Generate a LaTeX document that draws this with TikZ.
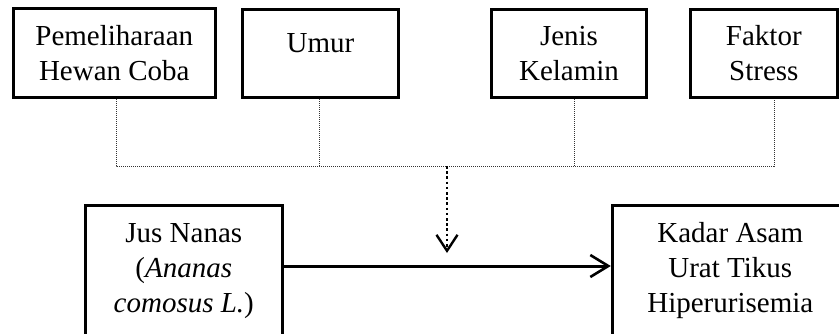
\documentclass[tikz,border=0pt]{standalone}
\usepackage{fontspec}
\setmainfont{Liberation Serif}
\usetikzlibrary{arrows.meta}
\begin{document}
\begin{tikzpicture}
        [x=1pt, y=-1pt,
        box/.style={rectangle, draw, line width=3pt, align=center, inner sep=0pt, font=\fontsize{29}{35}\selectfont},
        bus/.style={line width=1pt, dash pattern=on 1pt off 1pt, black!80},
        arr/.style={line width=3pt, -{Straight Barb[length=18pt, width=22pt, line width=2.6pt]}},
        arrDot/.style={line width=2.6pt, dash pattern=on 2.6pt off 2.6pt, -{Straight Barb[length=16pt, width=21pt, line width=2.4pt]}}]
        \useasboundingbox (0,0) rectangle (839,333);
        \node[box, minimum width=201.5pt, minimum height=89pt] (pem) at (114.3,53) {Pemeliharaan\\Hewan Coba};
        \node[box, minimum width=156pt, minimum height=88.5pt, text depth=21pt] (umur) at (320.5,53.5) {Umur};
        \node[box, minimum width=155pt, minimum height=88.5pt] (jenis) at (569,53.5) {Jenis\\Kelamin};
        \node[box, minimum width=147.5pt, minimum height=88.5pt] (faktor) at (763.8,53.5) {Faktor\\Stress};
        \node[box, minimum width=197pt, minimum height=132pt] (jus) at (183.8,271) {Jus Nanas\\(\textit{Ananas}\\\textit{comosus L.})};
        \node[box, minimum width=236pt, minimum height=132pt] (kadar) at (730.3,271) {Kadar Asam\\Urat Tikus\\Hiperurisemia};

        \coordinate (b1) at (116,166);
        \coordinate (b2) at (319,166);
        \coordinate (b3) at (574,166);
        \coordinate (b4) at (774,166);
        \coordinate (mid) at (447,166);
        \coordinate (tip) at (447,253);

        \draw[bus] (pem.south -| b1) -- (b1) -- (b4) -- (faktor.south -| b4);
        \draw[bus] (umur.south -| b2) -- (b2);
        \draw[bus] (jenis.south -| b3) -- (b3);
        \draw[arrDot] (mid) -- (tip);
        \draw[arr] ([yshift=5pt]jus.east) -- ([yshift=5pt]kadar.west);

    \end{tikzpicture}
\end{document}
